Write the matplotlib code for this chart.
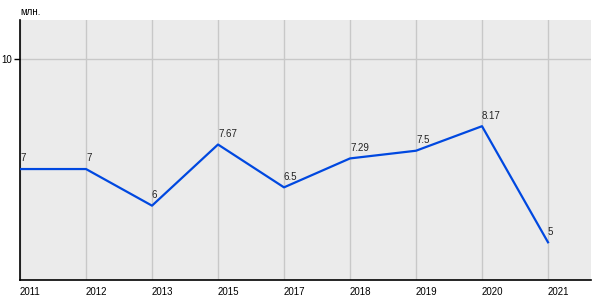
import matplotlib
matplotlib.use("Agg")
import matplotlib.pyplot as plt

plt.rcParams["font.family"] = ["Liberation Sans", "DejaVu Sans"]

# Daten
years = ["2011", "2012", "2013", "2015", "2017", "2018", "2019", "2020", "2021"]
values = [7, 7, 6, 7.67, 6.5, 7.29, 7.5, 8.17, 5]
labels = ["7", "7", "6", "7.67", "6.5", "7.29", "7.5", "8.17", "5"]

fig = plt.figure(figsize=(6, 3), dpi=100)
ax = fig.add_axes([20 / 600, 20 / 300, 571 / 600, 260 / 300])
ax.set_facecolor("#ebebeb")

x = list(range(len(years)))
ax.plot(x, values, color="#0048e0", linewidth=1.6, zorder=3)

for xi, v, lab in zip(x, values, labels):
    ax.annotate(lab, (xi, v), xytext=(0, 4), textcoords="offset points",
                ha="left", va="bottom", fontsize=7, color="#222222", zorder=4)

ax.set_xlim(0, 571 / 66)
ax.set_ylim(3.97, 11.07)

ax.set_xticks(x)
ax.set_xticklabels(years, ha="left", fontsize=7)
ax.set_yticks([10])
ax.set_yticklabels(["10"], fontsize=7)
ax.tick_params(axis="x", length=0, pad=5)
ax.tick_params(axis="y", length=4, width=1, direction="out", pad=2)

ax.grid(True, color="#c8c8c8", linewidth=1)
ax.set_axisbelow(True)

for s in ["top", "right"]:
    ax.spines[s].set_visible(False)
for s in ["left", "bottom"]:
    ax.spines[s].set_color("black")
    ax.spines[s].set_linewidth(1.2)

fig.text(20 / 600, 1 - 12 / 300, "млн.", fontsize=7, ha="left", va="center")

fig.savefig("out.png", dpi=100)
